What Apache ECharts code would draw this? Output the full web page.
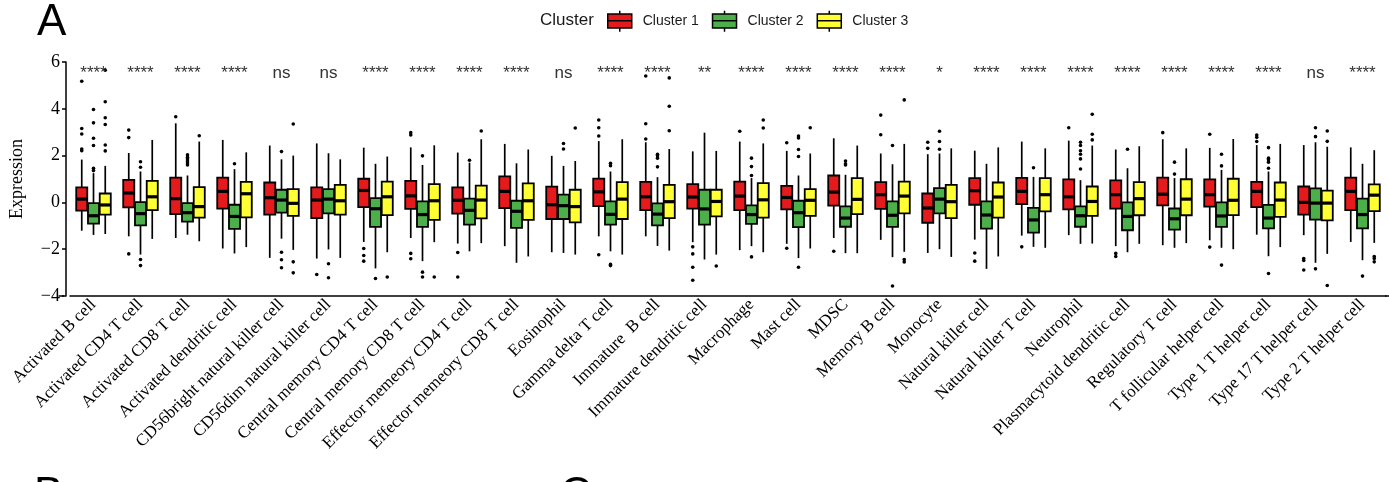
<!DOCTYPE html>
<html>
<head>
<meta charset="utf-8">
<script src="https://cdn.jsdelivr.net/npm/echarts@6/dist/echarts.min.js"></script>
<style>
html,body{margin:0;padding:0;background:#fff;}
#chart{width:1389px;height:482px;}
</style>
</head>
<body>
<div id="chart"></div>
<script>
const categories = ['Activated B cell','Activated CD4 T cell','Activated CD8 T cell','Activated dendritic cell','CD56bright natural killer cell','CD56dim natural killer cell','Central memory CD4 T cell','Central memory CD8 T cell','Effector memeory CD4 T cell','Effector memeory CD8 T cell','Eosinophil','Gamma delta T cell','Immature  B cell','Immature dendritic cell','Macrophage','Mast cell','MDSC','Memory B cell','Monocyte','Natural killer cell','Natural killer T cell','Neutrophil','Plasmacytoid dendritic cell','Regulatory T cell','T follicular helper cell','Type 1 T helper cell','Type 17 T helper cell','Type 2 T helper cell'];

const sigLabels = ['****','****','****','****','ns','ns','****','****','****','****','ns','****','****','**','****','****','****','****','*','****','****','****','****','****','****','****','ns','****'];

const clusterNames = ['Cluster 1','Cluster 2','Cluster 3'];

// [whiskerLow, Q1, median, Q3, whiskerHigh]
const cluster1Box = [
[-1.21,-0.35,0.14,0.64,1.83],[-1.45,-0.21,0.40,0.96,2.11],[-1.52,-0.50,0.16,1.06,3.38],[-1.97,-0.27,0.47,1.06,2.67],
[-2.37,-0.52,0.20,0.85,2.43],[-2.40,-0.67,0.10,0.64,2.52],[-1.69,-0.20,0.51,1.01,2.34],[-1.52,-0.28,0.28,0.92,2.35],
[-1.76,-0.48,0.09,0.64,2.13],[-1.87,-0.24,0.47,1.11,2.50],[-2.13,-0.71,-0.10,0.67,1.99],[-1.45,-0.16,0.45,1.02,2.62],
[-1.45,-0.33,0.24,0.88,2.57],[-1.70,-0.27,0.23,0.78,2.18],[-2.04,-0.33,0.27,0.89,2.60],[-1.77,-0.30,0.21,0.71,2.20],
[-1.52,-0.14,0.44,1.15,2.74],[-1.60,-0.28,0.33,0.87,2.09],[-2.16,-0.87,-0.24,0.38,2.06],[-1.59,-0.10,0.50,1.04,2.21],
[-1.42,-0.07,0.47,1.05,2.60],[-1.40,-0.30,0.24,0.98,2.64],[-1.87,-0.27,0.33,0.94,2.26],[-1.83,-0.13,0.35,1.06,2.70],
[-1.62,-0.18,0.33,0.98,2.33],[-1.38,-0.20,0.47,0.88,2.45],[-1.40,-0.52,0.00,0.68,2.45],[-1.69,-0.33,0.47,1.06,2.35]
];
const cluster2Box = [
[-1.39,-0.91,-0.57,-0.03,1.25],[-2.23,-0.98,-0.48,0.01,1.32],[-1.38,-0.82,-0.44,-0.03,1.15],[-2.18,-1.13,-0.60,-0.10,1.42],
[-1.55,-0.44,0.10,0.54,1.84],[-2.01,-0.47,0.14,0.57,2.10],[-2.82,-1.05,-0.27,0.18,1.65],[-2.51,-1.05,-0.52,0.04,1.60],
[-2.09,-0.95,-0.34,0.16,1.70],[-2.58,-1.09,-0.38,0.07,1.67],[-2.16,-0.71,-0.14,0.33,1.56],[-2.09,-0.95,-0.51,0.04,1.32],
[-1.86,-0.98,-0.50,-0.04,1.08],[-2.44,-0.95,-0.28,0.54,2.98],[-1.87,-0.92,-0.52,-0.13,1.04],[-2.38,-1.06,-0.44,0.07,1.15],
[-2.17,-1.04,-0.67,-0.17,1.18],[-2.34,-1.05,-0.55,0.04,1.63],[-2.00,-0.47,0.14,0.61,2.09],[-2.84,-1.12,-0.54,0.04,1.65],
[-1.90,-1.29,-0.75,-0.23,1.09],[-1.77,-1.04,-0.57,-0.17,0.95],[-2.13,-1.19,-0.60,0.00,1.46],[-1.94,-1.16,-0.70,-0.26,1.04],
[-1.94,-1.05,-0.58,0.00,1.39],[-2.30,-1.11,-0.67,-0.11,1.32],[-2.58,-0.74,-0.03,0.60,2.57],[-2.47,-1.11,-0.52,0.16,1.65]
];
const cluster3Box = [
[-1.35,-0.52,-0.11,0.38,1.56],[-1.56,-0.33,0.24,0.92,2.67],[-1.66,-0.65,-0.18,0.65,2.60],[-1.91,-0.64,0.37,0.88,2.14],
[-2.03,-0.58,-0.04,0.57,2.00],[-2.37,-0.52,0.07,0.75,1.84],[-2.13,-0.54,0.24,0.89,1.96],[-1.70,-0.75,0.07,0.78,2.44],
[-1.74,-0.68,0.10,0.72,2.70],[-2.31,-0.75,0.07,0.81,2.26],[-2.23,-0.85,-0.18,0.54,1.77],[-2.23,-0.71,0.14,0.87,2.70],
[-2.06,-0.67,0.03,0.75,2.28],[-2.23,-0.60,0.04,0.54,2.20],[-2.13,-0.65,0.11,0.82,2.52],[-1.97,-0.58,0.09,0.57,2.09],
[-2.17,-0.50,0.13,1.04,2.43],[-2.11,-0.47,0.27,0.89,2.50],[-2.33,-0.67,0.03,0.75,2.31],[-2.31,-0.65,0.23,0.85,2.35],
[-1.94,-0.38,0.33,1.04,2.31],[-1.76,-0.58,0.04,0.68,2.43],[-1.77,-0.55,0.16,0.87,2.40],[-1.74,-0.55,0.14,0.99,2.31],
[-2.00,-0.54,0.09,1.01,2.71],[-1.91,-0.62,0.10,0.85,2.50],[-2.20,-0.77,-0.03,0.50,2.38],[-1.73,-0.37,0.31,0.77,2.23]
];

// [categoryIndex, value]
const cluster1Outliers = [
[0,5.18],[0,3.16],[0,2.92],[0,2.28],[0,2.21],[1,3.09],[1,2.77],[1,-2.20],[2,3.66],[5,-3.08],
[6,-1.97],[6,-2.27],[6,-2.51],[7,2.98],[7,2.88],[7,-2.18],[7,-2.41],[8,-2.14],[8,-3.19],
[11,3.52],[11,3.19],[11,2.84],[11,-2.24],[12,5.40],[12,3.36],[12,2.71],[13,-1.90],[13,-2.20],[13,-2.77],[13,-3.33],
[14,3.04],[15,2.55],[15,-1.96],[16,-2.09],[17,3.73],[17,2.89],[18,2.57],[18,2.31],[19,-2.16],[19,-2.51],[20,-1.90],
[21,3.19],[22,-2.18],[22,-2.31],[23,2.98],[24,2.91],[24,-1.91],[25,2.88],[25,2.78],[25,2.60],[26,-2.40],[26,-2.48],[26,-2.89]
];
const cluster2Outliers = [
[0,3.97],[0,3.40],[0,2.74],[0,2.43],[0,1.46],[0,1.36],[1,1.74],[1,1.50],[1,-2.44],[1,-2.70],
[2,2.03],[2,1.93],[2,1.85],[2,1.77],[2,1.68],[2,1.60],[3,1.65],[4,2.17],[4,-2.13],[4,-2.45],[4,-2.79],[5,-2.62],[5,-3.22],
[6,-3.25],[7,1.99],[7,-2.98],[7,-3.19],[8,1.80],[10,2.52],[10,2.28],[11,1.67],[11,1.57],[11,-2.65],[11,-2.70],
[12,2.06],[12,1.99],[12,1.89],[12,1.52],[14,1.89],[14,1.53],[14,1.15],[14,-2.33],[15,2.84],[15,2.75],[15,2.26],[15,1.96],[15,-2.77],
[16,1.77],[16,1.65],[16,1.60],[17,2.43],[17,-3.57],[18,3.04],[18,2.60],[18,2.27],[20,1.48],
[21,2.57],[21,2.43],[21,2.21],[21,2.06],[21,1.86],[21,1.43],[22,2.27],[23,1.72],[23,1.21],[24,2.06],[24,1.56],[24,-2.68],
[25,2.34],[25,1.89],[25,1.82],[25,1.72],[25,1.46],[25,-3.04],[26,3.19],[26,2.81],[26,-2.84],[27,-3.15]
];
const cluster3Outliers = [
[0,5.65],[0,4.30],[0,3.62],[0,3.33],[0,2.45],[0,2.20],[2,2.85],[4,3.35],[4,-2.54],[4,-3.01],[6,-3.19],[7,-3.19],
[8,3.05],[10,3.18],[12,5.32],[12,4.11],[12,3.06],[13,-2.72],[14,3.52],[14,3.18],[15,3.19],[17,4.38],[17,-2.44],[17,-2.55],
[21,3.77],[21,2.91],[21,2.67],[26,3.05],[26,2.61],[26,-3.55],[27,-2.31],[27,-2.40],[27,-2.54]
];

const colors = ['#E41A1C','#4DAF4A','#FFFF33'];
const SIG_Y = 5.53;

const STEP = 0.25, BOXW = 0.235;

function boxSeries(name, color, boxes, k) {
  return {
    type: 'custom', name: name,
    itemStyle: {color: color},
    data: boxes.map((b, i) => [i].concat(b)),
    encode: {x: 0, y: [1,2,3,4,5]},
    z: 3,
    renderItem: function (params, api) {
      const cat = api.value(0);
      const band = api.size([1, 0])[0];
      const c = api.coord([cat, 0])[0] + k * band * STEP;
      const w = band * BOXW;
      const yl = api.coord([cat, api.value(1)])[1];
      const y1 = api.coord([cat, api.value(2)])[1];
      const ym = api.coord([cat, api.value(3)])[1];
      const y3 = api.coord([cat, api.value(4)])[1];
      const yh = api.coord([cat, api.value(5)])[1];
      const ls = {stroke: '#000', lineWidth: 1.7};
      return {type: 'group', children: [
        {type: 'line', shape: {x1: c, y1: yl, x2: c, y2: y1}, style: ls},
        {type: 'line', shape: {x1: c, y1: y3, x2: c, y2: yh}, style: ls},
        {type: 'rect', shape: {x: c - w/2, y: y3, width: w, height: y1 - y3}, style: {fill: color, stroke: '#000', lineWidth: 1.8}},
        {type: 'line', shape: {x1: c - w/2, y1: ym, x2: c + w/2, y2: ym}, style: {stroke: '#000', lineWidth: 3.2}}
      ]};
    }
  };
}
function outlierSeries(points, k) {
  return {
    type: 'custom',
    data: points,
    encode: {x: 0, y: 1},
    z: 4,
    renderItem: function (params, api) {
      const cat = api.value(0);
      const band = api.size([1, 0])[0];
      const p = api.coord([cat, api.value(1)]);
      return {type: 'circle', shape: {cx: p[0] + k * band * STEP, cy: p[1], r: 1.8}, style: {fill: '#000'}};
    }
  };
}

const chart = echarts.init(document.getElementById('chart'), null, {renderer: 'canvas'});
const iconPath = 'path://M0,15 L100,15 L100,82 L0,82 Z M0,48 L100,48 M50,0 L50,15 M50,82 L50,100';

chart.setOption({
  animation: false,
  backgroundColor: '#fff',
  grid: {left: 63, right: 3, top: 62, bottom: 186},
  legend: {
    left: 607, top: 10, padding: 0,
    itemWidth: 24, itemHeight: 21, itemGap: 13,
    symbolKeepAspect: false,
    icon: iconPath,
    data: clusterNames.map((n, i) => ({name: n, itemStyle: {color: colors[i], borderColor: '#000', borderWidth: 1.5}})),
    textStyle: {fontFamily: 'Liberation Sans', fontSize: 14, color: '#1a1a1a', padding: [0,0,0,6]}
  },
  graphic: [
    {type: 'text', x: 37, y: 23, style: {text: 'A', font: '44px "Liberation Sans"', fill: '#000', verticalAlign: 'middle'}},
    {type: 'text', x: 34, y: 496, style: {text: 'B', font: '44px "Liberation Sans"', fill: '#000', verticalAlign: 'middle'}},
    {type: 'text', x: 560, y: 496, style: {text: 'C', font: '44px "Liberation Sans"', fill: '#000', verticalAlign: 'middle'}},
    {type: 'text', x: 540, y: 20, style: {text: 'Cluster', font: '17px "Liberation Sans"', fill: '#1a1a1a', verticalAlign: 'middle'}},
    {type: 'line', shape: {x1: 58.5, y1: 296, x2: 64, y2: 296}, style: {stroke: '#000', lineWidth: 1.5}},
    {type: 'line', shape: {x1: 1385, y1: 296, x2: 1389, y2: 296}, style: {stroke: '#000', lineWidth: 1.5}}
  ],
  xAxis: {
    type: 'category', data: categories, boundaryGap: true,
    axisLine: {onZero: false, lineStyle: {color: '#000', width: 1.5}},
    axisTick: {alignWithLabel: true, length: 5, lineStyle: {color: '#000', width: 1.5}},
    axisLabel: {interval: 0, rotate: 45, margin: 6, fontFamily: 'Liberation Serif', fontSize: 17, color: '#000'},
    splitLine: {show: false}
  },
  yAxis: {
    type: 'value', min: -4, max: 6, interval: 2, offset: 4,
    name: 'Expression', nameLocation: 'middle', nameRotate: 90, nameGap: 40,
    nameTextStyle: {fontFamily: 'Liberation Serif', fontSize: 18, color: '#000'},
    axisLine: {show: true, lineStyle: {color: '#000', width: 1.5}},
    axisTick: {show: true, length: 4, lineStyle: {color: '#000', width: 1.5}},
    axisLabel: {fontFamily: 'Liberation Serif', fontSize: 18, color: '#000', margin: 6,
      formatter: v => String(v).replace('-', '\u2212')},
    splitLine: {show: false}
  },
  series: [
    boxSeries(clusterNames[0], colors[0], cluster1Box, -1),
    boxSeries(clusterNames[1], colors[1], cluster2Box, 0),
    boxSeries(clusterNames[2], colors[2], cluster3Box, 1),
    outlierSeries(cluster1Outliers, -1),
    outlierSeries(cluster2Outliers, 0),
    outlierSeries(cluster3Outliers, 1),
    {
      type: 'custom',
      data: sigLabels.map((s, i) => [i, SIG_Y]),
      encode: {x: 0, y: 1},
      z: 5,
      renderItem: function (params, api) {
        const p = api.coord([api.value(0), api.value(1)]);
        return {type: 'text', x: p[0], y: p[1], style: {text: sigLabels[params.dataIndex], font: '17px "Liberation Sans"', fill: '#333', align: 'center', verticalAlign: 'middle'}};
      }
    }
  ]
});
</script>
</body>
</html>
